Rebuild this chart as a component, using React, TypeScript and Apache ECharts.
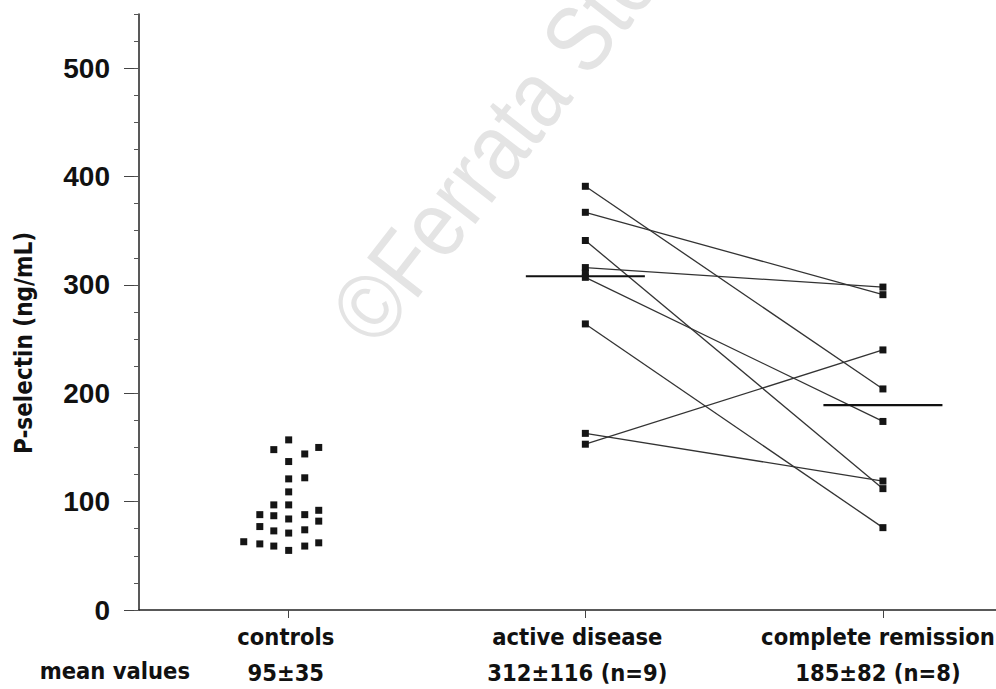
import React, { useEffect, useRef } from "react";
import * as echarts from "echarts";

// ---- data ----
const categories = ["controls", "active disease", "complete remission"];
const meanLabels = ["95±35", "312±116 (n=9)", "185±82 (n=8)"];
const categoryX = [1, 2, 3];

// controls: x jitter position (category units) and value
const controlsX = [
  1.003, 1.003, 1.003, 1.003, 1.003, 1.003, 1.003, 1.003,
  0.953, 0.953, 0.953, 0.953, 0.953,
  1.104, 1.104, 1.104, 1.104,
  1.057, 1.057, 1.057, 1.057, 1.057,
  0.906, 0.906, 0.906,
  0.852,
];
const controlsY = [
  157, 137, 121, 109, 97, 84, 71, 55,
  148, 97, 87, 73, 59,
  150, 92, 82, 62,
  144, 122, 88, 74, 59,
  88, 77, 61,
  63,
];

const activeValues = [391, 367, 341, 316, 311, 307, 264, 163, 153];
const remissionValues = [298, 291, 240, 204, 174, 119, 112, 76];
const pairedActive = [391, 367, 341, 316, 307, 264, 163, 153];
const pairedRemission = [204, 291, 112, 298, 174, 76, 119, 240];

const activeMean = 308;
const remissionMean = 189;
const activeMeanSpan = [1.8, 2.2];
const remissionMeanSpan = [2.8, 3.2];

const yMin = 0;
const yMax = 550;
const yMajor = 100;
const yMinor = 25;
const xMin = 0.5;
const xMax = 3.38;

const condensed = '"DejaVu Sans Condensed", "Liberation Sans Narrow", "Arial Narrow", sans-serif';
const heavy = '"Liberation Sans", Arial, sans-serif';

const labelFont = {
  fontFamily: condensed,
  fontWeight: "bold",
  fontSize: 23.5,
  lineHeight: 36,
  color: "#111",
};

export default function App() {
  const ref = useRef<HTMLDivElement>(null);

  useEffect(() => {
    if (!ref.current) return;
    const chart = echarts.init(ref.current, undefined, { renderer: "svg" });

    const pairSeries = pairedActive.map((a, i) => ({
      type: "line",
      data: [
        [categoryX[1], a],
        [categoryX[2], pairedRemission[i]],
      ],
      symbol: "none",
      lineStyle: { color: "#333", width: 1.3 },
      silent: true,
      z: 2,
    }));

    const markStyle = { color: "#151515", opacity: 1 };

    const option: any = {
      animation: false,
      backgroundColor: "#ffffff",
      grid: {
        left: 139,
        right: 0,
        top: 14,
        bottom: 79,
        containLabel: false,
        outerBoundsMode: "none",
      },
      xAxis: {
        type: "value",
        min: xMin,
        max: xMax,
        splitLine: { show: false },
        axisLine: { show: true, lineStyle: { color: "#222", width: 1.5 } },
        axisTick: {
          show: true,
          customValues: categoryX,
          length: 8,
          inside: false,
          lineStyle: { color: "#444", width: 1 },
        },
        axisLabel: {
          show: true,
          customValues: categoryX,
          margin: 9,
          hideOverlap: false,
          formatter: (v: number) => {
            const i = Math.round(v) - 1;
            const k = "c" + i;
            return `{${k}|${categories[i]}}\n{${k}|${meanLabels[i]}}`;
          },
          ...labelFont,
          rich: {
            c0: { ...labelFont, padding: [0, 4, 0, 0] },
            c1: { ...labelFont, padding: [0, 16, 0, 0] },
            c2: { ...labelFont, padding: [0, 10, 0, 0] },
          },
        },
      },
      yAxis: [
        {
          type: "value",
          min: yMin,
          max: yMax,
          interval: yMajor,
          splitLine: { show: false },
          axisLine: { show: true, lineStyle: { color: "#222", width: 1.5 } },
          axisTick: { show: true, length: 15, lineStyle: { color: "#444", width: 1 } },
          axisLabel: {
            margin: 29,
            fontFamily: heavy,
            fontWeight: "bold",
            fontSize: 28,
            color: "#111",
            showMaxLabel: false,
          },
        },
        {
          type: "value",
          min: yMin,
          max: yMax,
          interval: yMinor,
          position: "left",
          splitLine: { show: false },
          axisLine: { show: false },
          axisTick: { show: true, length: 5, lineStyle: { color: "#555", width: 1 } },
          axisLabel: { show: false },
        },
      ],
      graphic: [
        {
          type: "text",
          x: 352,
          y: 330,
          rotation: (52 * Math.PI) / 180,
          scaleX: 0.86,
          z: -10,
          silent: true,
          style: {
            text: "©Ferrata Storti",
            fontSize: 94,
            fontFamily: heavy,
            fill: "#e4e4e4",
            textAlign: "left",
            textVerticalAlign: "middle",
          },
        },
        {
          type: "text",
          x: 24,
          y: 343,
          rotation: Math.PI / 2,
          style: {
            text: "P-selectin (ng/mL)",
            fontSize: 24,
            fontWeight: "bold",
            fontFamily: condensed,
            fill: "#111",
            textAlign: "center",
            textVerticalAlign: "middle",
          },
        },
        {
          type: "text",
          x: 190,
          y: 671,
          style: {
            text: "mean values",
            fontSize: 23.5,
            fontWeight: "bold",
            fontFamily: condensed,
            fill: "#111",
            textAlign: "right",
            textVerticalAlign: "middle",
          },
        },
      ],
      series: [
        ...pairSeries,
        {
          type: "line",
          data: [
            [activeMeanSpan[0], activeMean],
            [activeMeanSpan[1], activeMean],
          ],
          symbol: "none",
          lineStyle: { color: "#111", width: 2.2 },
          silent: true,
          z: 3,
        },
        {
          type: "line",
          data: [
            [remissionMeanSpan[0], remissionMean],
            [remissionMeanSpan[1], remissionMean],
          ],
          symbol: "none",
          lineStyle: { color: "#111", width: 2.2 },
          silent: true,
          z: 3,
        },
        {
          type: "scatter",
          data: controlsX.map((x, i) => [x, controlsY[i]]),
          symbol: "rect",
          symbolSize: 7,
          itemStyle: markStyle,
          z: 4,
        },
        {
          type: "scatter",
          data: activeValues.map((v) => [categoryX[1], v]),
          symbol: "rect",
          symbolSize: 7,
          itemStyle: markStyle,
          z: 4,
        },
        {
          type: "scatter",
          data: remissionValues.map((v) => [categoryX[2], v]),
          symbol: "rect",
          symbolSize: 7,
          itemStyle: markStyle,
          z: 4,
        },
      ],
    };

    chart.setOption(option);
    return () => chart.dispose();
  }, []);

  return (
    <div
      ref={ref}
      style={{ position: "absolute", left: 0, top: 0, width: 996, height: 689 }}
    />
  );
}
